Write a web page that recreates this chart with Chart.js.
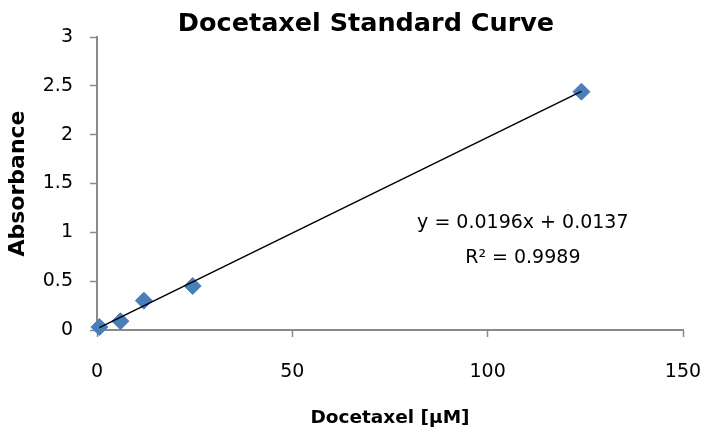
<!DOCTYPE html>
<html>
<head>
<meta charset="utf-8">
<script src="https://cdn.jsdelivr.net/npm/chart.js@4.4.0/dist/chart.umd.min.js"></script>
<style>
  body { margin: 0; background: #fff; }
  #wrap { width: 702px; height: 429px; }
</style>
</head>
<body>
<div id="wrap"><canvas id="curveChart" width="702" height="429"></canvas></div>
<script>
// Dados
const concentracao = [0.6, 6, 12, 24.5, 124];      // Docetaxel [µM]
const absorbancia = [0.03, 0.09, 0.30, 0.45, 2.44];

// linha de tendência (extremos)
const tendenciaX = [0.6, 124];
const tendenciaY = [0.025, 2.444];

const equacao = 'y = 0.0196x + 0.0137';
const r2 = 'R² = 0.9989';
const titulo = 'Docetaxel Standard Curve';

const pontos = concentracao.map((x, i) => ({ x: x, y: absorbancia[i] }));
const linha = tendenciaX.map((x, i) => ({ x: x, y: tendenciaY[i] }));

const eixoCor = '#8a8a8a';

// título e equação desenhados à mão
const textosPlugin = {
  id: 'textos',
  afterDraw(chart) {
    const c = chart.ctx;
    const xs = chart.scales.x, ys = chart.scales.y;
    c.save();
    c.fillStyle = '#000';
    c.textAlign = 'center';
    c.textBaseline = 'alphabetic';
    c.font = 'bold 25.5px "DejaVu Sans"';
    c.fillText(titulo, 366, 31);

    c.font = '19px "DejaVu Sans"';
    const ex = xs.getPixelForValue(109);
    c.fillText(equacao, ex, ys.getPixelForValue(1.044));
    c.fillText(r2, ex, ys.getPixelForValue(0.686));
    c.restore();
  }
};

const ctx = document.getElementById('curveChart').getContext('2d');
const grafico = new Chart(ctx, {
  type: 'scatter',
  data: {
    datasets: [{
      type: 'line',
      data: linha,
      borderColor: '#000',
      borderWidth: 1.5,
      pointRadius: 0,
      fill: false,
      clip: false,
      order: 0
    }, {
      data: pontos,
      pointStyle: 'rectRot',
      pointRadius: 8.5,
      backgroundColor: '#4a7ebb',
      borderColor: '#4a7ebb',
      borderWidth: 1,
      clip: false,
      order: 1
    }]
  },
  options: {
    responsive: false,
    animation: false,
    layout: { padding: { top: 37, right: 19, left: 0, bottom: 0 } },
    plugins: {
      legend: { display: false },
      tooltip: { enabled: false }
    },
    scales: {
      x: {
        type: 'linear',
        min: 0, max: 150,
        ticks: { stepSize: 50, color: '#000', padding: 24, font: { family: 'DejaVu Sans', size: 19 } },
        grid: { drawOnChartArea: false, color: eixoCor, tickLength: 7, tickWidth: 1.5 },
        border: { color: eixoCor, width: 2 },
        title: {
          display: true, text: 'Docetaxel [µM]', color: '#000',
          font: { family: 'DejaVu Sans', weight: 'bold', size: 18.5 },
          padding: { top: 0, bottom: 0 }
        },
        afterFit(scale) {
          scale.height = 99;
          scale.paddingLeft = 0;
          scale.paddingRight = 0;
        }
      },
      y: {
        min: 0, max: 3,
        ticks: {
          stepSize: 0.5, color: '#000', padding: 17,
          font: { family: 'DejaVu Sans', size: 19 },
          callback: v => String(v)
        },
        grid: { drawOnChartArea: false, color: eixoCor, tickLength: 7, tickWidth: 1.5 },
        border: { color: eixoCor, width: 2 },
        title: {
          display: true, text: 'Absorbance', color: '#000',
          font: { family: 'DejaVu Sans', weight: 'bold', size: 22 },
          padding: { top: 5, bottom: 0 }
        },
        afterFit(scale) {
          scale.width = 97;
          scale.paddingTop = 0;
          scale.paddingBottom = 0;
        }
      }
    }
  },
  plugins: [textosPlugin]
});
</script>
</body>
</html>
